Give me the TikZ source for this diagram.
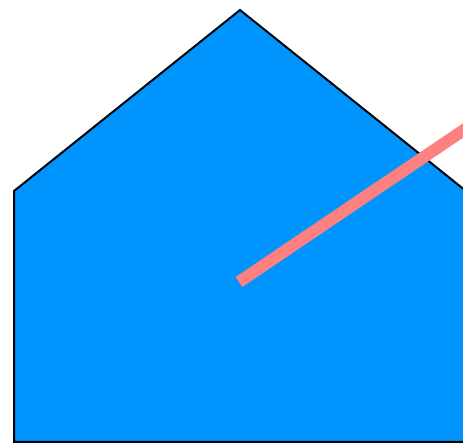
\documentclass[tikz,border=0pt]{standalone}
\usepackage{tikz}
\definecolor{houseblue}{HTML}{0094FF}
\definecolor{rayred}{HTML}{FF8080}

\begin{document}
\begin{tikzpicture}[x=1pt, y=1pt]
    % Frame
    \useasboundingbox (0, 0) rectangle (463, 444);
    \clip (0, 0) rectangle (463, 444);

    % House shape
    \draw[fill=houseblue, line width=2pt, line join=miter]
      (240, 434) -- (14, 253) -- (14, 2) -- (466, 2) -- (466, 253) -- cycle;

    % Ray from the centre
    \coordinate (centre) at (239, 162);
    \coordinate (rayend) at (490, 331.7);
    \draw[rayred, line width=12pt] (centre) -- (rayend);
\end{tikzpicture}
\end{document}
